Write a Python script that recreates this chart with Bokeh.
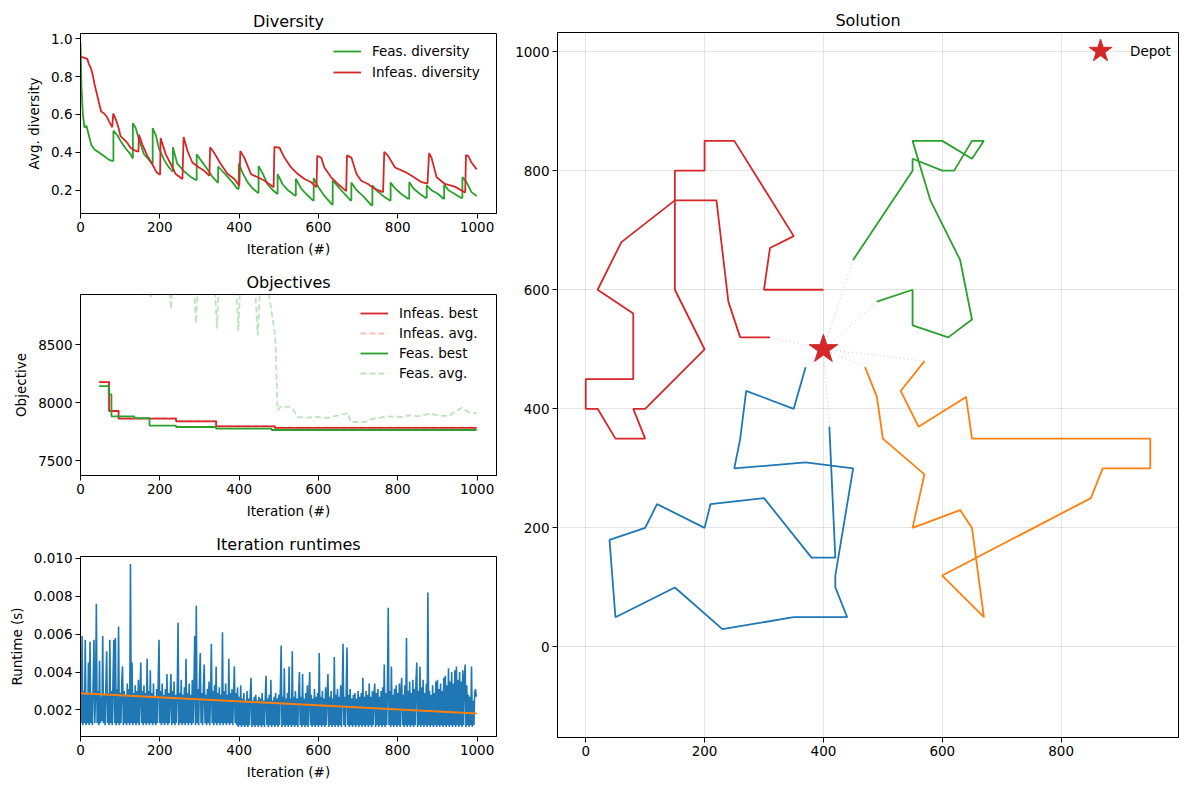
from bokeh.plotting import figure
from bokeh.layouts import row, column
from bokeh.models import FixedTicker, PrintfTickFormatter, Range1d
from bokeh.embed import file_html
from bokeh.resources import INLINE

# ---------------- data ----------------
# Diversity
feas_div_iter = [0, 2.5, 6, 10, 15, 21, 27, 35, 46, 59, 72, 80,
                 83, 83, 93, 101, 114, 126, 131,
                 132, 132, 139, 147, 160, 173, 181,
                 182, 182, 190, 198, 211, 223, 232,
                 233, 233, 244, 261, 278, 291,
                 293, 293, 303, 320, 333, 345,
                 347, 347, 358, 371, 384, 396,
                 399, 399, 409, 422, 434, 447,
                 449, 449, 459, 472, 485, 496,
                 497, 497, 510, 523, 541,
                 543, 543, 556, 569, 586,
                 588, 588, 599, 615, 634,
                 636, 636, 649, 666, 681,
                 683, 683, 696, 712, 734,
                 736, 736, 746, 763, 780,
                 782, 782, 793, 809, 826,
                 829, 829, 839, 856, 870,
                 873, 873, 885, 902, 915,
                 917, 917, 928, 944, 959,
                 963, 963, 974, 986, 999]
feas_div = [0.98, 0.74, 0.60, 0.53, 0.54, 0.49, 0.44, 0.415, 0.40, 0.38, 0.36, 0.355,
            0.355, 0.514, 0.49, 0.46, 0.42, 0.39, 0.37,
            0.37, 0.554, 0.53, 0.47, 0.39, 0.36, 0.34,
            0.34, 0.528, 0.49, 0.42, 0.36, 0.32, 0.30,
            0.30, 0.427, 0.34, 0.30, 0.27, 0.254,
            0.254, 0.39, 0.36, 0.31, 0.27, 0.242,
            0.242, 0.325, 0.30, 0.27, 0.24, 0.207,
            0.207, 0.341, 0.29, 0.24, 0.21, 0.186,
            0.186, 0.328, 0.29, 0.23, 0.20, 0.181,
            0.181, 0.285, 0.23, 0.20, 0.172,
            0.172, 0.261, 0.21, 0.18, 0.146,
            0.146, 0.264, 0.22, 0.17, 0.125,
            0.125, 0.252, 0.22, 0.18, 0.146,
            0.146, 0.240, 0.20, 0.17, 0.12,
            0.12, 0.226, 0.20, 0.17, 0.146,
            0.146, 0.240, 0.21, 0.18, 0.155,
            0.155, 0.243, 0.21, 0.18, 0.16,
            0.16, 0.226, 0.20, 0.18, 0.155,
            0.155, 0.230, 0.20, 0.18, 0.16,
            0.16, 0.269, 0.24, 0.19, 0.169]

infeas_div_iter = [0, 8, 17, 21, 27, 32, 35, 40, 46, 52, 59, 66, 72, 80,
                   82.6, 91, 97, 101, 110, 118, 126, 139, 146,
                   147.5, 156, 169, 181, 192, 200.7,
                   202, 215, 228, 240, 257,
                   260, 270, 282, 299, 312, 325,
                   327, 337, 354, 371, 388, 400.5,
                   403, 413, 430, 447, 464, 487,
                   489, 502, 514, 531, 548, 565, 582, 595,
                   597, 607, 615, 632, 649, 670,
                   672, 683, 696, 708, 725, 742, 763,
                   766, 776, 793, 818, 835, 860, 875,
                   879, 885, 898, 919, 944, 970,
                   972, 978, 986, 999]
infeas_div = [0.905, 0.90, 0.893, 0.867, 0.84, 0.797, 0.763, 0.72, 0.667, 0.615, 0.606, 0.589, 0.563, 0.532,
              0.605, 0.563, 0.52, 0.485, 0.467, 0.45, 0.424, 0.407, 0.403,
              0.493, 0.441, 0.38, 0.337, 0.294, 0.282,
              0.476, 0.389, 0.337, 0.285, 0.259,
              0.481, 0.407, 0.346, 0.32, 0.302, 0.276,
              0.427, 0.398, 0.337, 0.285, 0.259, 0.224,
              0.407, 0.372, 0.285, 0.268, 0.25, 0.216,
              0.429, 0.424, 0.372, 0.32, 0.285, 0.259, 0.242, 0.216,
              0.382, 0.372, 0.32, 0.268, 0.233, 0.195,
              0.384, 0.372, 0.285, 0.25, 0.233, 0.207, 0.19,
              0.403, 0.38, 0.32, 0.297, 0.276, 0.242, 0.235,
              0.396, 0.372, 0.268, 0.233, 0.219, 0.188,
              0.386, 0.38, 0.346, 0.31]

# Objectives
infeas_best_iter = [47, 72, 72, 96, 96, 241, 241, 342, 342, 490, 490, 999]
infeas_best = [8178, 8178, 7928, 7928, 7862, 7862, 7839, 7839, 7796, 7796, 7783, 7783]
infeas_avg_iter = [47, 73, 73, 97, 97, 242, 242, 343, 343, 491, 491, 999]
infeas_avg = [8182, 8182, 7932, 7932, 7866, 7866, 7843, 7843, 7800, 7800, 7787, 7787]
feas_best_iter = [47, 71, 71, 78, 78, 136, 136, 174, 174, 241, 241, 342, 342, 482, 482, 999]
feas_best = [8143, 8143, 8072, 8072, 7882, 7882, 7867, 7867, 7802, 7802, 7790, 7790, 7776, 7776, 7764, 7764]
feas_avg_iter = [46, 120, 165, 172, 178, 186, 222, 228, 234, 284, 291, 298, 338, 344, 350,
                 392, 398, 404, 440, 447, 454, 472, 491, 497, 506, 527, 535, 548, 565, 599,
                 624, 649, 675, 681, 717, 738, 776, 809, 826, 852, 881, 902, 927, 961, 978, 999]
feas_avg = [10200, 9600, 9250, 8990, 8900, 9300, 9150, 8810, 9200, 9100, 8690, 9150, 9050, 8640, 9100,
            9050, 8620, 9100, 9000, 8580, 9050, 9000, 8580, 7934, 7968, 7963, 7948, 7876, 7871, 7876,
            7868, 7890, 7911, 7833, 7833, 7862, 7882, 7876, 7890, 7882, 7905, 7890, 7882, 7957, 7920, 7905]

# Iteration runtimes (every 2nd iteration)
runtime_iter = list(range(0, 1000, 2))
runtime = [
    0.0046, 0.0013, 0.0059, 0.0012, 0.0030, 0.0013, 0.0057, 0.0012, 0.0028, 0.0013,
    0.0045, 0.0012, 0.0056, 0.0013, 0.0029, 0.0012, 0.0035, 0.0057, 0.0013, 0.0029,
    0.0076, 0.0013, 0.0030, 0.0012, 0.0046, 0.0013, 0.0027, 0.0014, 0.0059, 0.0013,
    0.0028, 0.0012, 0.0033, 0.0051, 0.0013, 0.0029, 0.0012, 0.0057, 0.0013, 0.0030,
    0.0012, 0.0036, 0.0057, 0.0013, 0.0058, 0.0012, 0.0031, 0.0013, 0.0064, 0.0012,
    0.0029, 0.0013, 0.0035, 0.0043, 0.0012, 0.0030, 0.0013, 0.0028, 0.0012, 0.0034,
    0.0013, 0.0031, 0.0012, 0.0097, 0.0013, 0.0045, 0.0012, 0.0029, 0.0013, 0.0033,
    0.0012, 0.0030, 0.0013, 0.0036, 0.0012, 0.0028, 0.0045, 0.0013, 0.0030, 0.0012,
    0.0033, 0.0013, 0.0029, 0.0012, 0.0047, 0.0013, 0.0030, 0.0012, 0.0041, 0.0013,
    0.0029, 0.0012, 0.0034, 0.0013, 0.0027, 0.0012, 0.0031, 0.0013, 0.0036, 0.0057,
    0.0013, 0.0030, 0.0012, 0.0034, 0.0013, 0.0028, 0.0012, 0.0031, 0.0013, 0.0039,
    0.0012, 0.0029, 0.0013, 0.0027, 0.0039, 0.0012, 0.0030, 0.0013, 0.0035, 0.0012,
    0.0028, 0.0013, 0.0031, 0.0066, 0.0012, 0.0029, 0.0013, 0.0036, 0.0012, 0.0028,
    0.0013, 0.0032, 0.0012, 0.0047, 0.0013, 0.0029, 0.0012, 0.0034, 0.0013, 0.0028,
    0.0012, 0.0036, 0.0013, 0.0030, 0.0059, 0.0012, 0.0075, 0.0013, 0.0031, 0.0012,
    0.0036, 0.0050, 0.0013, 0.0029, 0.0012, 0.0033, 0.0044, 0.0013, 0.0028, 0.0012,
    0.0031, 0.0013, 0.0035, 0.0012, 0.0027, 0.0055, 0.0013, 0.0030, 0.0012, 0.0033,
    0.0013, 0.0043, 0.0012, 0.0029, 0.0013, 0.0032, 0.0012, 0.0028, 0.0013, 0.0061,
    0.0012, 0.0030, 0.0013, 0.0034, 0.0012, 0.0028, 0.0013, 0.0047, 0.0012, 0.0029,
    0.0013, 0.0031, 0.0012, 0.0027, 0.0043, 0.0013, 0.0029, 0.0012, 0.0032, 0.0011,
    0.0027, 0.0012, 0.0033, 0.0011, 0.0026, 0.0012, 0.0029, 0.0011, 0.0025, 0.0012,
    0.0030, 0.0011, 0.0026, 0.0012, 0.0028, 0.0037, 0.0011, 0.0025, 0.0012, 0.0027,
    0.0011, 0.0028, 0.0012, 0.0025, 0.0011, 0.0027, 0.0012, 0.0026, 0.0011, 0.0029,
    0.0012, 0.0025, 0.0011, 0.0027, 0.0038, 0.0012, 0.0026, 0.0011, 0.0028, 0.0012,
    0.0036, 0.0011, 0.0025, 0.0012, 0.0027, 0.0011, 0.0029, 0.0012, 0.0026, 0.0011,
    0.0028, 0.0012, 0.0031, 0.0054, 0.0011, 0.0027, 0.0012, 0.0042, 0.0011, 0.0026,
    0.0012, 0.0029, 0.0011, 0.0043, 0.0012, 0.0026, 0.0011, 0.0051, 0.0012, 0.0027,
    0.0011, 0.0030, 0.0012, 0.0026, 0.0011, 0.0028, 0.0040, 0.0012, 0.0027, 0.0011,
    0.0039, 0.0012, 0.0026, 0.0011, 0.0029, 0.0012, 0.0033, 0.0011, 0.0027, 0.0040,
    0.0012, 0.0028, 0.0011, 0.0026, 0.0012, 0.0031, 0.0011, 0.0027, 0.0012, 0.0029,
    0.0011, 0.0050, 0.0012, 0.0027, 0.0011, 0.0030, 0.0012, 0.0026, 0.0011, 0.0032,
    0.0012, 0.0028, 0.0039, 0.0011, 0.0027, 0.0012, 0.0030, 0.0011, 0.0026, 0.0012,
    0.0048, 0.0011, 0.0028, 0.0012, 0.0031, 0.0011, 0.0027, 0.0012, 0.0033, 0.0011,
    0.0029, 0.0055, 0.0012, 0.0027, 0.0011, 0.0030, 0.0053, 0.0012, 0.0028, 0.0011,
    0.0031, 0.0012, 0.0026, 0.0011, 0.0028, 0.0012, 0.0029, 0.0011, 0.0026, 0.0012,
    0.0030, 0.0011, 0.0027, 0.0012, 0.0029, 0.0011, 0.0037, 0.0012, 0.0027, 0.0011,
    0.0030, 0.0012, 0.0028, 0.0011, 0.0034, 0.0012, 0.0027, 0.0011, 0.0030, 0.0012,
    0.0028, 0.0034, 0.0011, 0.0029, 0.0012, 0.0031, 0.0011, 0.0027, 0.0012, 0.0030,
    0.0011, 0.0032, 0.0012, 0.0044, 0.0011, 0.0029, 0.0012, 0.0031, 0.0074, 0.0012,
    0.0030, 0.0011, 0.0043, 0.0012, 0.0028, 0.0011, 0.0031, 0.0012, 0.0033, 0.0011,
    0.0029, 0.0012, 0.0034, 0.0011, 0.0030, 0.0037, 0.0012, 0.0028, 0.0011, 0.0033,
    0.0012, 0.0058, 0.0011, 0.0030, 0.0012, 0.0035, 0.0011, 0.0029, 0.0012, 0.0036,
    0.0011, 0.0031, 0.0012, 0.0035, 0.0045, 0.0011, 0.0030, 0.0012, 0.0043, 0.0011,
    0.0032, 0.0012, 0.0036, 0.0011, 0.0029, 0.0012, 0.0034, 0.0011, 0.0082, 0.0012,
    0.0030, 0.0011, 0.0028, 0.0012, 0.0033, 0.0011, 0.0029, 0.0012, 0.0035, 0.0011,
    0.0036, 0.0012, 0.0031, 0.0011, 0.0034, 0.0012, 0.0030, 0.0011, 0.0037, 0.0012,
    0.0038, 0.0011, 0.0033, 0.0012, 0.0042, 0.0011, 0.0035, 0.0012, 0.0040, 0.0011,
    0.0034, 0.0012, 0.0041, 0.0011, 0.0043, 0.0012, 0.0036, 0.0011, 0.0040, 0.0012,
    0.0035, 0.0011, 0.0041, 0.0012, 0.0037, 0.0044, 0.0011, 0.0033, 0.0012, 0.0028,
    0.0011, 0.0027, 0.0012, 0.0043, 0.0011, 0.0025, 0.0012, 0.0029, 0.0031, 0.0027]
trend_iter = [0, 999]
trend = [0.00288, 0.00182]

# Solution
depot_x = [400]
depot_y = [500]
route_x = [
    [370, 350, 270, 260, 250, 370, 450, 420, 420, 440, 350, 230, 150, 50, 40, 100, 120, 200, 210, 300, 380, 420, 410],
    [470, 490, 500, 570, 550, 630, 650, 670, 600, 850, 870, 950, 950, 650, 640, 560, 530, 570],
    [450, 550, 550, 600, 620, 650, 670, 650, 600, 550, 580, 630, 650, 610, 550, 550, 490],
    [310, 260, 240, 220, 150, 60, 20, 80, 80, 0, 0, 20, 50, 100, 80, 100, 200, 150, 150, 200, 200, 250, 350, 310, 300, 400],
]
route_y = [
    [470, 400, 430, 350, 300, 310, 300, 120, 100, 50, 50, 30, 100, 50, 180, 200, 240, 200, 240, 250, 150, 150, 370],
    [470, 420, 350, 290, 200, 230, 200, 50, 120, 250, 300, 300, 350, 350, 420, 370, 430, 480],
    [650, 800, 820, 800, 800, 850, 850, 820, 850, 850, 750, 650, 550, 520, 540, 600, 580],
    [520, 520, 580, 750, 750, 680, 600, 560, 450, 450, 400, 400, 350, 350, 400, 400, 500, 600, 800, 800, 850, 850, 690, 670, 600, 600],
]
route_colors = ["#1f77b4", "#ff7f0e", "#2ca02c", "#d62728"]

FONT = "DejaVu Sans"
TICK = "13.5px"


def style(p, title):
    p.title.text = title
    p.title.align = "center"
    p.title.text_font = FONT
    p.title.text_font_size = "16px"
    p.title.text_font_style = "normal"
    p.title.text_color = "black"
    p.title.standoff = 6
    p.outline_line_color = "black"
    p.outline_line_width = 1
    p.outline_line_alpha = 1
    p.background_fill_color = "white"
    p.border_fill_color = "white"
    for ax in list(p.xaxis) + list(p.yaxis):
        ax.axis_line_color = "black"
        ax.major_tick_line_color = "black"
        ax.major_tick_out = 5
        ax.major_tick_in = 0
        ax.minor_tick_out = 0
        ax.minor_tick_in = 0
        ax.major_label_text_font = FONT
        ax.major_label_text_font_size = TICK
        ax.major_label_text_color = "black"
        ax.major_label_standoff = 3
        ax.axis_label_text_font = FONT
        ax.axis_label_text_font_size = TICK
        ax.axis_label_text_font_style = "normal"
        ax.axis_label_text_color = "black"
        ax.axis_label_standoff = 6


def style_legend(lg, loc, gw=28, gh=18, pad=3, spacing=3):
    lg.background_fill_alpha = 0
    lg.border_line_alpha = 0
    lg.label_text_font = FONT
    lg.label_text_font_size = TICK
    lg.label_text_color = "black"
    lg.glyph_width = gw
    lg.glyph_height = gh
    lg.label_height = gh
    lg.label_standoff = 11
    lg.spacing = spacing
    lg.margin = 0
    lg.padding = pad
    lg.location = loc


LEFT_KW = dict(frame_width=416, min_border_left=80, min_border_right=13,
               output_backend="svg", toolbar_location=None)

# Diversity
p1 = figure(frame_height=180, min_border_top=33, min_border_bottom=53,
            x_range=Range1d(0, 1049), y_range=Range1d(0.077, 1.027), **LEFT_KW)
p1.line(feas_div_iter, feas_div, color="#2ca02c", line_width=1.8, legend_label="Feas. diversity")
p1.line(infeas_div_iter, infeas_div, color="#d62728", line_width=1.8, legend_label="Infeas. diversity")
p1.xaxis.axis_label = "Iteration (#)"
p1.yaxis.axis_label = "Avg. diversity"
p1.xaxis.ticker = FixedTicker(ticks=[0, 200, 400, 600, 800, 1000])
p1.yaxis.ticker = FixedTicker(ticks=[0.2, 0.4, 0.6, 0.8, 1.0])
p1.yaxis.formatter = PrintfTickFormatter(format="%.1f")
p1.xgrid.visible = False
p1.ygrid.visible = False
style(p1, "Diversity")
style_legend(p1.legend[0], (250, 129))

# Objectives
p2 = figure(frame_height=181, min_border_top=28, min_border_bottom=53,
            x_range=Range1d(0, 1049), y_range=Range1d(7371, 8934), **LEFT_KW)
p2.line(infeas_best_iter, infeas_best, color="#d62728", line_width=1.8, legend_label="Infeas. best")
p2.line(infeas_avg_iter, infeas_avg, color="#d62728", line_alpha=0.3, line_width=1.8,
        line_dash="6 3", legend_label="Infeas. avg.")
p2.line(feas_best_iter, feas_best, color="#2ca02c", line_width=1.8, legend_label="Feas. best")
p2.line(feas_avg_iter, feas_avg, color="#2ca02c", line_alpha=0.3, line_width=1.8,
        line_dash="6 3", legend_label="Feas. avg.")
p2.xaxis.axis_label = "Iteration (#)"
p2.yaxis.axis_label = "Objective"
p2.xaxis.ticker = FixedTicker(ticks=[0, 200, 400, 600, 800, 1000])
p2.yaxis.ticker = FixedTicker(ticks=[7500, 8000, 8500])
p2.xgrid.visible = False
p2.ygrid.visible = False
style(p2, "Objectives")
style_legend(p2.legend[0], (277, 90), spacing=2)

# Runtimes
p3 = figure(frame_height=180, min_border_top=28, min_border_bottom=46,
            x_range=Range1d(0, 1049), y_range=Range1d(0.0006, 0.0101), **LEFT_KW)
p3.line(runtime_iter, runtime, color="#1f77b4", line_width=1.6)
p3.line(trend_iter, trend, color="#ff7f0e", line_width=2)
p3.xaxis.axis_label = "Iteration (#)"
p3.yaxis.axis_label = "Runtime (s)"
p3.xaxis.ticker = FixedTicker(ticks=[0, 200, 400, 600, 800, 1000])
p3.yaxis.ticker = FixedTicker(ticks=[0.002, 0.004, 0.006, 0.008, 0.010])
p3.yaxis.formatter = PrintfTickFormatter(format="%.3f")
p3.xgrid.visible = False
p3.ygrid.visible = False
style(p3, "Iteration runtimes")

# Solution
p4 = figure(frame_width=621, frame_height=705, min_border_left=48, min_border_right=8,
            min_border_top=32, min_border_bottom=45,
            x_range=Range1d(-47.5, 997.5), y_range=Range1d(-152, 1032),
            output_backend="svg", toolbar_location=None)
for xs, ys in zip(route_x, route_y):
    p4.line([xs[0], depot_x[0]], [ys[0], depot_y[0]], color="#bbbbbb", line_width=1,
            line_dash="1 3", line_alpha=0.8)
    p4.line([xs[-1], depot_x[0]], [ys[-1], depot_y[0]], color="#bbbbbb", line_width=1,
            line_dash="1 3", line_alpha=0.8)
for xs, ys, c in zip(route_x, route_y, route_colors):
    p4.line(xs, ys, color=c, line_width=1.8)
p4.scatter(depot_x, depot_y, marker="star", size=30, color="#d62728",
           line_color="#d62728", legend_label="Depot")
p4.xaxis.ticker = FixedTicker(ticks=[0, 200, 400, 600, 800])
p4.yaxis.ticker = FixedTicker(ticks=[0, 200, 400, 600, 800, 1000])
p4.xgrid.grid_line_color = "black"
p4.ygrid.grid_line_color = "black"
p4.xgrid.grid_line_alpha = 0.1
p4.ygrid.grid_line_alpha = 0.1
style(p4, "Solution")
style_legend(p4.legend[0], (513, 649), gw=60, gh=75, pad=0)
p4.legend[0].label_standoff = 0

layout = row(column(p1, p2, p3), p4)
open("out.html", "w").write(file_html(layout, INLINE))
